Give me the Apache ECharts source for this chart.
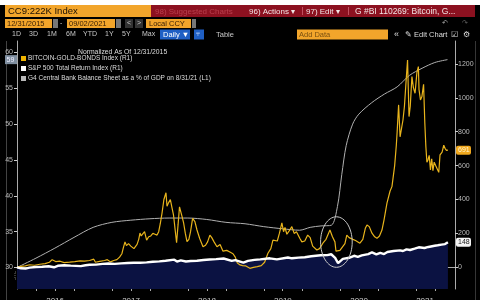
<!DOCTYPE html>
<html><head><meta charset="utf-8">
<script src="https://cdn.jsdelivr.net/npm/echarts@6/dist/echarts.min.js"></script>
<style>html,body{margin:0;padding:0;background:#000;}#c{width:480px;height:300px;}</style>
</head><body><div id="c"></div>
<script>
// ---- DATA ----
const btcDates = ['2016-01-01','2016-01-20','2016-02-10','2016-03-01','2016-03-25','2016-04-20','2016-05-15','2016-06-05','2016-06-18','2016-07-05','2016-07-26','2016-08-15','2016-09-10','2016-10-05','2016-10-30','2016-11-20','2016-12-15','2017-01-04','2017-01-12','2017-02-01','2017-02-25','2017-03-10','2017-03-25','2017-04-10','2017-04-25','2017-05-08','2017-05-19','2017-05-25','2017-06-03','2017-06-10','2017-06-20','2017-07-01','2017-07-16','2017-07-31','2017-08-08','2017-08-14','2017-08-20','2017-08-29','2017-09-05','2017-09-15','2017-09-25','2017-10-05','2017-10-15','2017-10-25','2017-11-04','2017-11-12','2017-11-20','2017-11-28','2017-12-07','2017-12-17','2017-12-22','2017-12-29','2018-01-07','2018-01-15','2018-01-22','2018-01-29','2018-02-06','2018-02-13','2018-02-20','2018-03-04','2018-03-12','2018-03-20','2018-03-28','2018-04-06','2018-04-14','2018-04-24','2018-05-05','2018-05-15','2018-05-28','2018-06-13','2018-06-25','2018-07-05','2018-07-16','2018-07-25','2018-08-05','2018-08-19','2018-09-03','2018-09-17','2018-10-05','2018-10-20','2018-11-04','2018-11-15','2018-11-25','2018-12-08','2018-12-20','2019-01-05','2019-01-24','2019-02-10','2019-03-01','2019-03-20','2019-04-05','2019-04-21','2019-05-05','2019-05-15','2019-05-24','2019-06-05','2019-06-15','2019-06-27','2019-07-05','2019-07-12','2019-07-21','2019-08-01','2019-08-14','2019-08-25','2019-09-05','2019-09-21','2019-10-01','2019-10-15','2019-10-29','2019-11-10','2019-11-22','2019-12-12','2019-12-25','2020-01-10','2020-01-25','2020-02-13','2020-02-25','2020-03-08','2020-03-13','2020-03-20','2020-04-01','2020-04-10','2020-04-25','2020-05-04','2020-05-15','2020-06-02','2020-06-15','2020-07-06','2020-07-20','2020-08-01','2020-08-09','2020-08-20','2020-09-02','2020-09-15','2020-09-26','2020-10-08','2020-10-20','2020-10-30','2020-11-13','2020-11-28','2020-12-07','2020-12-12','2020-12-20','2020-12-28','2021-01-01','2021-01-08','2021-01-15','2021-01-22','2021-01-29','2021-02-05','2021-02-13','2021-02-20','2021-02-27','2021-03-05','2021-03-13','2021-03-20','2021-03-28','2021-04-06','2021-04-13','2021-04-16','2021-04-23','2021-04-30','2021-05-08','2021-05-14','2021-05-19','2021-05-24','2021-05-29','2021-06-04','2021-06-10','2021-06-16','2021-06-22','2021-06-28','2021-07-05','2021-07-11','2021-07-20','2021-07-26','2021-08-05','2021-08-13','2021-08-19','2021-08-26','2021-09-02'];
const btcValues = [0,5,8,15,12,18,22,30,45,34,36,28,30,33,38,36,40,48,30,35,40,45,32,40,45,60,80,110,150,128,140,125,110,135,165,202,185,195,210,160,180,185,200,195,190,210,260,320,400,440,360,380,400,350,310,300,145,250,357,300,260,200,151,165,210,289,270,220,170,121,130,150,190,175,150,121,135,95,100,90,80,60,25,14,10,8,-6,0,4,10,30,83,110,160,171,155,200,262,210,235,195,215,240,200,210,171,150,155,190,175,125,102,110,142,165,220,180,150,95,92,100,102,140,190,175,165,158,142,165,230,250,240,201,180,171,185,220,280,378,450,476,470,600,720,800,958,770,760,869,950,1100,1223,889,950,1125,1060,1027,1150,1184,1050,987,1007,1080,850,712,620,633,660,574,640,570,620,600,584,560,663,680,720,702,690,691];

const spDates = ['2016-01-01','2016-01-20','2016-02-11','2016-03-01','2016-04-01','2016-05-01','2016-06-01','2016-06-27','2016-07-15','2016-08-15','2016-09-15','2016-11-03','2016-11-25','2016-12-15','2017-01-15','2017-02-15','2017-03-15','2017-04-15','2017-05-15','2017-06-15','2017-07-15','2017-08-15','2017-09-15','2017-10-15','2017-11-15','2017-12-15','2018-01-26','2018-02-08','2018-02-26','2018-03-23','2018-04-15','2018-05-15','2018-06-15','2018-07-15','2018-08-15','2018-09-20','2018-10-29','2018-11-15','2018-12-24','2019-01-15','2019-02-15','2019-03-15','2019-04-30','2019-06-03','2019-07-26','2019-08-14','2019-09-15','2019-10-15','2019-11-15','2019-12-31','2020-01-31','2020-02-19','2020-03-09','2020-03-23','2020-04-15','2020-05-15','2020-06-08','2020-06-26','2020-07-15','2020-08-15','2020-09-02','2020-09-23','2020-10-12','2020-10-30','2020-11-15','2020-12-15','2021-01-15','2021-01-29','2021-02-15','2021-03-04','2021-03-26','2021-04-15','2021-05-12','2021-05-31','2021-06-30','2021-07-15','2021-08-02','2021-08-19','2021-09-02'];
const spValues = [0,-6,-8,-2,2,3,6,0,9,12,10,7,12,15,16,20,22,20,23,25,27,27,29,33,35,39,45,34,41,34,37,39,43,46,48,52,38,42,28,38,44,47,53,47,58,53,57,59,65,71,72,77,56,24,50,56,68,62,70,78,88,76,85,78,90,96,100,96,106,102,110,118,114,120,127,130,134,137,148];

const g4Dates = ['2016-01-01','2016-04-01','2016-07-01','2016-10-01','2017-01-01','2017-04-01','2017-07-01','2017-10-01','2018-01-01','2018-04-01','2018-07-01','2018-10-01','2019-01-01','2019-04-01','2019-07-01','2019-09-20','2019-11-10','2020-01-01','2020-02-20','2020-03-20','2020-04-10','2020-05-01','2020-06-01','2020-07-01','2020-09-01','2020-11-01','2021-01-01','2021-03-01','2021-05-01','2021-07-01','2021-08-31'];
const g4Values = [30.0,31.3,32.7,34.2,35.6,36.3,36.6,36.8,36.9,36.9,36.7,36.3,36.1,35.7,35.4,35.2,35.6,35.8,35.9,38.5,43.0,47.0,50.0,51.4,53.0,54.2,55.2,56.8,57.8,58.6,59.0];

const leftTicks = [30,35,40,45,50,55,60];
const rightTicks = [0,200,400,600,800,1000,1200];
const yearTicks = ['2017-01-01','2018-01-01','2019-01-01','2020-01-01','2021-01-01'];
const yearLabels = ['2016-07-02','2017-07-02','2018-07-02','2019-07-02','2020-07-02','2021-05-15'];
const quarterTicks = ['2016-04-01','2016-07-01','2016-10-01','2017-04-01','2017-07-01','2017-10-01','2018-04-01','2018-07-01','2018-10-01','2019-04-01','2019-07-01','2019-10-01','2020-04-01','2020-07-01','2020-10-01','2021-04-01','2021-07-01'];

const seriesNames = ['BITCOIN-GOLD-BONDS Index (R1)','S&P 500 Total Return Index (R1)','G4 Central Bank Balance Sheet as a % of GDP on 8/31/21 (L1)'];
const legendTitle = 'Normalized As Of 12/31/2015';

// ---- CHART ----
const ts = d => new Date(d + 'T00:00:00Z').getTime();
const zip = (a, b) => a.map((d, i) => [d, b[i]]);
const FONT = 'Liberation Sans';
const chart = echarts.init(document.getElementById('c'), null, {renderer: 'canvas'});

const xMin = ts('2016-01-01'), xMax = ts('2021-10-06');
const option = {
  backgroundColor: '#000',
  animation: false,
  grid: {left: 17, right: 25, top: 41, bottom: 11, containLabel: false, outerBoundsMode: 'none'},
  title: {text: legendTitle, left: 73, top: 44, textStyle: {color: '#ddd', fontSize: 6.8, fontWeight: 'normal', fontFamily: FONT}},
  legend: {
    data: seriesNames, orient: 'vertical', left: 21, top: 55, itemWidth: 5, itemHeight: 5, itemGap: 3,
    icon: 'rect', textStyle: {color: '#ddd', fontSize: 6.5, fontFamily: FONT, padding: [0, 0, 0, -3]}, padding: 0
  },
  xAxis: [{
    type: 'time', min: xMin, max: xMax,
    axisLine: {lineStyle: {color: '#aaa', width: 1}},
    axisTick: {customValues: yearTicks.map(ts), length: 12, lineStyle: {color: '#aaa'}},
    axisLabel: {customValues: yearLabels.map(ts), formatter: '{yyyy}', color: '#ccc', fontSize: 8, fontFamily: FONT, margin: 8},
    splitLine: {show: false}
  }, {
    type: 'time', min: xMin, max: xMax, position: 'bottom',
    axisLine: {show: false},
    axisTick: {customValues: quarterTicks.map(ts), length: 2, lineStyle: {color: '#aaa'}},
    axisLabel: {show: false}, splitLine: {show: false}
  }],
  yAxis: [{
    type: 'value', position: 'left', min: 27, max: 61.6,
    axisLine: {show: true, lineStyle: {color: '#aaa'}},
    axisTick: {show: true, customValues: leftTicks, length: 3, lineStyle: {color: '#ccc'}},
    axisLabel: {customValues: leftTicks, color: '#bbb', fontSize: 7, fontFamily: FONT, margin: 4},
    splitLine: {show: false}
  }, {
    type: 'value', position: 'right', min: -128, max: 1335,
    axisLine: {show: true, lineStyle: {color: '#aaa'}},
    axisTick: {show: true, customValues: rightTicks, length: 3, lineStyle: {color: '#ccc'}},
    axisLabel: {customValues: rightTicks, formatter: v => String(v), color: '#bbb', fontSize: 7, fontFamily: FONT, margin: 3},
    splitLine: {show: false}
  }],
  series: [
    {name: seriesNames[1], type: 'line', yAxisIndex: 1, data: zip(spDates, spValues), showSymbol: false,
     color: '#ffffff', lineStyle: {opacity: 0, width: 0}, areaStyle: {color: '#0b1242', opacity: 1, origin: 'start'}, z: 1},
    {name: seriesNames[2], type: 'line', yAxisIndex: 0, data: zip(g4Dates, g4Values), showSymbol: false,
     color: '#b8b8b8', lineStyle: {width: 1, color: '#b0b0b0'}, smooth: 0.3, z: 2},
    {name: seriesNames[0], type: 'line', yAxisIndex: 1, data: zip(btcDates, btcValues), showSymbol: false,
     color: '#f0b400', lineStyle: {width: 1.2, color: '#e8b41c'}, z: 3},
    {name: seriesNames[1], type: 'line', yAxisIndex: 1, data: zip(spDates, spValues), showSymbol: false,
     color: '#ffffff', lineStyle: {width: 2.4, color: '#ffffff'}, z: 4}
  ]
};
chart.setOption(option);

// ---- overlays: terminal chrome + value tags ----
const g = [];
const rect = (x, y, w, h, fill, extra) => g.push(Object.assign({type: 'rect', shape: {x, y, width: w, height: h}, style: {fill}, silent: true}, extra || {}));
const text = (x, y, t, fill, size, opts) => g.push({type: 'text', silent: true, style: Object.assign({x, y, text: t, fill, font: (size || 7) + 'px ' + FONT, verticalAlign: 'middle'}, opts || {})});

rect(0, 0, 480, 5, '#ffffff');
rect(5, 5, 146, 12, '#f2a52b');
text(8, 11.5, 'CC9:222K Index', '#1a1005', 9.5);
rect(151, 5, 324, 12, '#8c1120');
text(155, 11.5, '98) Suggested Charts', '#b9404e', 8);
text(249, 11.5, '96) Actions \u25BE', '#f2e6e6', 8);
rect(302, 7, 1, 8, '#c05060');
text(306, 11.5, '97) Edit \u25BE', '#f2e6e6', 8);
rect(348, 7, 1, 8, '#c05060');
text(355, 11.5, 'G #BI 110269: Bitcoin, G...', '#f2e6e6', 8.5);

rect(5, 19, 47, 9, '#f2a52b'); text(7, 23.5, '12/31/2015', '#3a2005', 7.5);
rect(53, 19, 5, 9, '#777');
text(60, 23.5, '-', '#ccc', 7);
rect(67, 19, 48, 9, '#f2a52b'); text(69, 23.5, '09/02/2021', '#3a2005', 7.5);
rect(116, 19, 5, 9, '#777');
rect(125, 19, 8, 9, '#333'); text(127, 23.5, '<', '#ccc', 7);
rect(135, 19, 8, 9, '#333'); text(137, 23.5, '>', '#ccc', 7);
rect(146, 19, 45, 9, '#f2a52b'); text(149, 23.5, 'Local CCY', '#3a2005', 7.5);
rect(192, 19, 4, 9, '#777');
text(442, 23.5, '\u21B6', '#aaa', 7); text(462, 23.5, '\u21B7', '#666', 7);

const ranges = [['1D', 12], ['3D', 29], ['1M', 47], ['6M', 66], ['YTD', 83], ['1Y', 105], ['5Y', 122], ['Max', 142]];
ranges.forEach(([t, x]) => text(x, 34.5, t, '#c8c8c8', 7));
rect(160, 29.5, 30, 10, '#1f5fc4'); text(163, 34.5, 'Daily \u25BC', '#ffffff', 7.5);
rect(194, 29.5, 10, 10, '#1f5fc4'); text(196, 34.5, '\u2AE7', '#cfe0ff', 7);
text(216, 34.5, 'Table', '#c8c8c8', 7.5);
rect(297, 29.5, 91, 10, '#f2a52b'); text(299, 34.5, 'Add Data', '#7a5010', 7.5);
text(394, 34.5, '\u00AB', '#ddd', 9);
text(405, 34.5, '\u270E Edit Chart', '#ddd', 7.5);
text(451, 34.5, '\u2611', '#ddd', 7.5);
text(463, 34.5, '\u2699', '#ddd', 8);

rect(6, 41, 0.8, 259, '#555');
rect(475, 41, 0.8, 259, '#444');
rect(15, 272, 7, 7, 'rgba(0,0,0,0)', {style: {fill: 'none', stroke: '#888', lineWidth: 0.8, lineDash: [1, 1]}});

// value tags from last data points
const lastG4 = g4Values[g4Values.length - 1];
const lastBtc = btcValues[btcValues.length - 1];
const lastSp = spValues[spValues.length - 1];
const yG4 = chart.convertToPixel({yAxisIndex: 0}, lastG4);
const yBtc = chart.convertToPixel({yAxisIndex: 1}, lastBtc);
const ySp = chart.convertToPixel({yAxisIndex: 1}, lastSp);
rect(5, yG4 - 4.5, 12, 9, '#7f8fa0'); text(6.5, yG4, String(lastG4), '#eef', 7);
rect(456, yBtc - 4.5, 15, 9, '#f0a81e', {shape: {x: 456, y: yBtc - 4.5, width: 15, height: 9, r: 2}}); text(458, yBtc, String(lastBtc), '#fff4d0', 7);
rect(456, ySp - 4.5, 15, 9, '#f4f4f4', {shape: {x: 456, y: ySp - 4.5, width: 15, height: 9, r: 2}}); text(458, ySp, String(lastSp), '#222', 7);

// annotation circle around the March 2020 dip
const ctr = chart.convertToPixel({seriesIndex: 2}, ['2020-03-15', 149]);
const edge = chart.convertToPixel({seriesIndex: 2}, ['2020-05-30', 0]);
g.push({type: 'ellipse', silent: true, z: 10, shape: {cx: ctr[0], cy: ctr[1], rx: edge[0] - ctr[0], ry: edge[1] - ctr[1]}, style: {fill: 'none', stroke: '#c8c8c8', lineWidth: 1}});

chart.setOption({graphic: {elements: g}});
</script></body></html>
